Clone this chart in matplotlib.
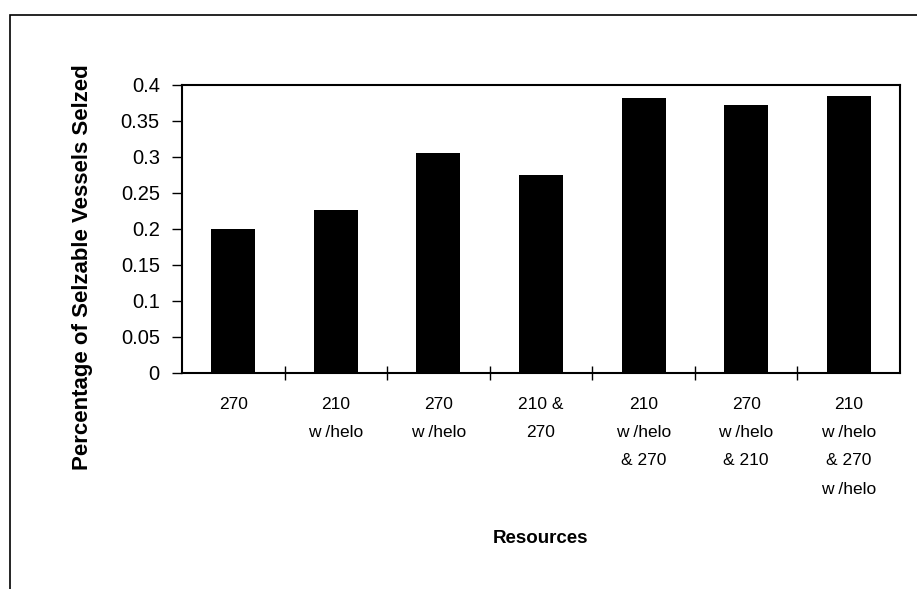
import numpy as np
import matplotlib.pyplot as plt
from matplotlib.patches import Rectangle

plt.rcParams['font.family'] = ['Liberation Sans', 'DejaVu Sans']

# data
categories = ["270", "210\nw /helo", "270\nw /helo", "210 &\n270",
              "210\nw /helo\n& 270", "270\nw /helo\n& 210",
              "210\nw /helo\n& 270\nw /helo"]
seized = [0.2, 0.226, 0.305, 0.275, 0.382, 0.372, 0.385]
yticks = [0, 0.05, 0.1, 0.15, 0.2, 0.25, 0.3, 0.35, 0.4]
ytick_labels = ["0", "0.05", "0.1", "0.15", "0.2", "0.25", "0.3", "0.35", "0.4"]

fig = plt.figure(figsize=(9.17, 5.89), dpi=100)
ax = fig.add_axes([182/917, 1-373/589, (900-182)/917, (373-85)/589])

x = np.arange(len(categories))
ax.bar(x, seized, width=0.43, color="black")

ax.set_xlim(-0.5, len(categories) - 0.5)
ax.set_ylim(0, 0.4)
ax.set_yticks(yticks)
ax.set_yticklabels(ytick_labels, fontsize=14.5)

# labels centred on bars, tick marks between categories
ax.set_xticks(x)
ax.set_xticklabels(categories, fontsize=12.5, linespacing=2.12, va="top")
ax.tick_params(axis="x", which="major", length=0, pad=17)
ax.set_xticks(x[:-1] + 0.5, minor=True)
ax.tick_params(axis="x", which="minor", direction="inout", length=10, width=1)
ax.tick_params(axis="y", direction="out", length=7, width=1, pad=9)

for s in ax.spines.values():
    s.set_linewidth(1.5)
    s.set_color("black")

ax.set_ylabel("Percentage of Selzable Vessels Selzed", fontsize=16,
              fontweight="bold")
ax.yaxis.set_label_coords(-0.124, 0.367)
ax.set_xlabel("Resources", fontsize=13.5, fontweight="bold")
ax.xaxis.set_label_coords(0.5, -0.545)

# outer frame of the chart area
fig.patches.append(Rectangle((10/917, -0.1), 1.2, 1 - 15/589 + 0.1,
                             transform=fig.transFigure, fill=False,
                             edgecolor="black", linewidth=1.2))

fig.savefig("out.png", dpi=100)
